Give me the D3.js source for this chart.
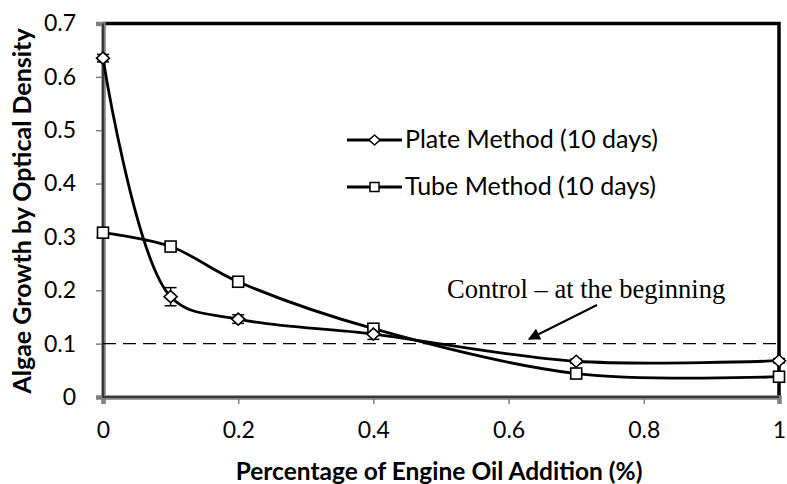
<!DOCTYPE html>
<html>
<head>
<meta charset="utf-8">
<script src="https://cdn.jsdelivr.net/npm/d3@7"></script>
<style>
body { margin: 0; background: #fff; }
text { font-family: Lato, "Open Sans", sans-serif; }
</style>
</head>
<body>
<svg id="chart"></svg>
<script>
var width = 787;
var height = 484;

// values
var xValues = [0, 0.1, 0.2, 0.4, 0.7, 1.0];
var plateValues = [0.635, 0.188, 0.146, 0.118, 0.067, 0.068];
var plateErrors = [0.007, 0.017, 0.008, 0.010, 0.004, 0.004];
var tubeValues = [0.308, 0.282, 0.216, 0.128, 0.044, 0.038];
var xTicks = [0, 0.2, 0.4, 0.6, 0.8, 1];
var yTicks = [0, 0.1, 0.2, 0.3, 0.4, 0.5, 0.6, 0.7];
var controlValue = 0.1;
var seriesNames = ["Plate Method (10 days)", "Tube Method (10 days)"];

var svg = d3.select("#chart")
    .attr("width", width)
    .attr("height", height);

var x = d3.scaleLinear().domain([0, 1]).range([103, 779]);
var y = d3.scaleLinear().domain([0, 0.7]).range([397, 23.5]);

// top and right border (black, thick)
svg.append("path")
    .attr("d", "M" + x(0) + "," + y(0.7) + "H" + x(1) + "V" + y(0))
    .attr("fill", "none")
    .attr("stroke", "#000")
    .attr("stroke-width", 3.5);

// axes
var yAxis = d3.axisLeft(y).tickValues(yTicks).tickSize(7).tickPadding(20)
    .tickFormat(function(d){ return d === 0 ? "0" : d3.format(".1f")(d); });
var xAxis = d3.axisBottom(x).tickValues(xTicks).tickSize(7).tickPadding(18)
    .tickFormat(function(d){ return (d === 0 || d === 1) ? d3.format("d")(d) : d3.format(".1f")(d); });

var gy = svg.append("g").attr("transform", "translate(" + x(0) + ",0)").call(yAxis);
var gx = svg.append("g").attr("transform", "translate(0," + y(0) + ")").call(xAxis);

[gx, gy].forEach(function(g){
    g.select(".domain").attr("stroke", "#808080").attr("stroke-width", 4.5);
    g.selectAll(".tick line").attr("stroke", "#808080").attr("stroke-width", 1.5);
    g.selectAll(".tick text").style("font-size", "23px").attr("fill", "#000")
        .style("font-family", "Lato, 'Open Sans', sans-serif");
});
// dark core on the axis lines
svg.append("path")
    .attr("d", "M" + x(0) + "," + y(0.7) + "V" + y(0) + "H" + x(1))
    .attr("fill", "none").attr("stroke", "#222").attr("stroke-width", 1.5);

// control dashed line
svg.append("line")
    .attr("x1", x(0)).attr("x2", x(1))
    .attr("y1", y(controlValue)).attr("y2", y(controlValue))
    .attr("stroke", "#000").attr("stroke-width", 1.4)
    .attr("stroke-dasharray", "13,7");

var line = d3.line()
    .x(function(d){ return x(d[0]); })
    .y(function(d){ return y(d[1]); })
    .curve(d3.curveCatmullRom.alpha(0.5));

var plateData = xValues.map(function(v, i){ return [v, plateValues[i], plateErrors[i]]; });
var tubeData = xValues.map(function(v, i){ return [v, tubeValues[i]]; });

svg.append("path").datum(tubeData).attr("d", line)
    .attr("fill", "none").attr("stroke", "#000").attr("stroke-width", 2.8);
svg.append("path").datum(plateData).attr("d", line)
    .attr("fill", "none").attr("stroke", "#000").attr("stroke-width", 2.8);

// error bars
var eb = svg.selectAll(".err").data(plateData).enter().append("g");
eb.append("line")
    .attr("x1", function(d){ return x(d[0]); }).attr("x2", function(d){ return x(d[0]); })
    .attr("y1", function(d){ return y(d[1] - d[2]); }).attr("y2", function(d){ return y(d[1] + d[2]); })
    .attr("stroke", "#000").attr("stroke-width", 1.5);
[1, -1].forEach(function(s){
    eb.append("line")
        .attr("x1", function(d){ return x(d[0]) - 6; }).attr("x2", function(d){ return x(d[0]) + 6; })
        .attr("y1", function(d){ return y(d[1] + s * d[2]); }).attr("y2", function(d){ return y(d[1] + s * d[2]); })
        .attr("stroke", "#000").attr("stroke-width", 1.5);
});

function diamondPath(w, h) {
    return "M0," + (-h) + "L" + w + ",0L0," + h + "L" + (-w) + ",0Z";
}

svg.selectAll(".tubeMark").data(tubeData).enter().append("rect")
    .attr("x", function(d){ return x(d[0]) - 5.5; })
    .attr("y", function(d){ return y(d[1]) - 5.5; })
    .attr("width", 11).attr("height", 11)
    .attr("fill", "#fff").attr("stroke", "#000").attr("stroke-width", 1.6);

svg.selectAll(".plateMark").data(plateData).enter().append("path")
    .attr("d", diamondPath(6.5, 6))
    .attr("transform", function(d){ return "translate(" + x(d[0]) + "," + y(d[1]) + ")"; })
    .attr("fill", "#fff").attr("stroke", "#000").attr("stroke-width", 1.6);

// legend
var legend = svg.append("g");
seriesNames.forEach(function(name, i){
    var ly = 140 + i * 47;
    legend.append("line").attr("x1", 347).attr("x2", 402).attr("y1", ly).attr("y2", ly)
        .attr("stroke", "#000").attr("stroke-width", 2.8);
    if (i === 0) {
        legend.append("path").attr("d", diamondPath(5.5, 5))
            .attr("transform", "translate(374.5," + ly + ")")
            .attr("fill", "#fff").attr("stroke", "#000").attr("stroke-width", 1.5);
    } else {
        legend.append("rect").attr("x", 370).attr("y", ly - 4.5).attr("width", 9).attr("height", 9)
            .attr("fill", "#fff").attr("stroke", "#000").attr("stroke-width", 1.5);
    }
    legend.append("text").attr("x", 405).attr("y", ly + 8)
        .style("font-size", "25px").text(name);
});

// annotation
svg.append("text")
    .attr("x", 447).attr("y", 298)
    .style("font-family", "'Liberation Serif', 'Times New Roman', serif")
    .style("font-size", "26.5px")
    .text("Control \u2013 at the beginning");

svg.append("defs").append("marker")
    .attr("id", "arrow").attr("viewBox", "0 0 10 10")
    .attr("refX", 9).attr("refY", 5)
    .attr("markerWidth", 8).attr("markerHeight", 6)
    .attr("orient", "auto").attr("markerUnits", "strokeWidth")
    .append("path").attr("d", "M0,0L10,5L0,10Z").attr("fill", "#000");

svg.append("line")
    .attr("x1", 597).attr("y1", 305).attr("x2", 529).attr("y2", 339)
    .attr("stroke", "#000").attr("stroke-width", 2)
    .attr("marker-end", "url(#arrow)");

// axis titles
svg.append("text")
    .attr("transform", "translate(31," + 211 + ") rotate(-90)")
    .attr("text-anchor", "middle")
    .style("font-size", "25px").style("font-weight", "bold")
    .text("Algae Growth by Optical Density");

svg.append("text")
    .attr("x", 439).attr("y", 480)
    .attr("text-anchor", "middle")
    .style("font-size", "24.5px").style("font-weight", "bold")
    .text("Percentage of Engine Oil Addition (%)");
</script>
</body>
</html>
